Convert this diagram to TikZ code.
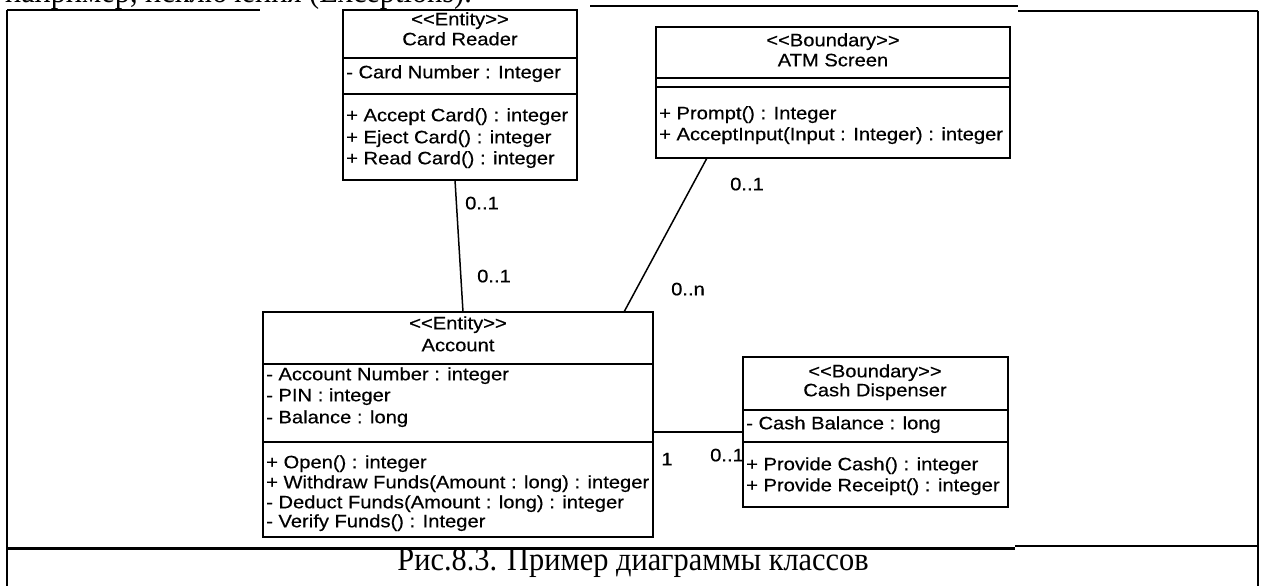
\documentclass[tikz,border=0pt]{standalone}
\usepackage{fontspec}
\setmainfont{Liberation Serif}
\newfontfamily\umlfont[FakeStretch=1.12,FakeBold=0.4]{Liberation Sans}
\newfontfamily\capfont[FakeStretch=0.92]{Liberation Serif}
\tikzset{
  cls/.style={draw, line width=1.7pt, anchor=north west, inner sep=0pt, outer sep=0pt},
  divider/.style={line width=1.7pt},
  conn/.style={line width=1.5pt},
  t/.style={font=\umlfont\fontsize{18}{22}\selectfont, inner sep=0pt},
  tl/.style={t, anchor=mid west},
  tc/.style={t, anchor=mid},
  frameline/.style={line width=2pt},
  doc/.style={font=\capfont\fontsize{33}{38}\selectfont, inner sep=0pt},
}
\begin{document}
\begin{tikzpicture}[x=1pt, y=-1pt]
\useasboundingbox (0,0) rectangle (1266,586);
\clip (0,0) rectangle (1266,586);
\fill[white] (0,0) rectangle (1266,586);

% cut-off text line above the table
\node[doc, anchor=base west] (toptext) at (5,3) {например, исключения (Exceptions).};

% table frame
\draw[frameline] (7,10) -- (260,10);
\draw[frameline] (590,6) -- (1018,6);
\draw[frameline] (1018,11) -- (1258,11);
\draw[frameline] (7,10) -- (7,590);
\draw[frameline] (1258,11) -- (1258,590);
\draw[line width=3pt] (7,548) -- (1015,548);
\draw[line width=2pt] (1015,546) -- (1258,546);

% Card Reader
\node[cls, minimum width=234pt, minimum height=170pt] (cr) at (343,10) {};
\draw[divider] ([yshift=-48pt]cr.north west) -- ([yshift=-48pt]cr.north east);
\draw[divider] ([yshift=-84pt]cr.north west) -- ([yshift=-84pt]cr.north east);
\node[tc] (cr1) at (460,23) {<{}<Entity>{}>};
\node[tc] (cr2) at (460,43) {Card Reader};
\node[tl] (cr3) at (346,76) {- Card Number : Integer};
\node[tl] (cr4) at (346,119) {+ Accept Card() : integer};
\node[tl] (cr5) at (346,141) {+ Eject Card() : integer};
\node[tl] (cr6) at (346,162) {+ Read Card() : integer};

% ATM Screen
\node[cls, minimum width=354pt, minimum height=131pt] (atm) at (656,27) {};
\draw[divider] ([yshift=-51pt]atm.north west) -- ([yshift=-51pt]atm.north east);
\draw[divider] ([yshift=-60pt]atm.north west) -- ([yshift=-60pt]atm.north east);
\node[tc] (atm1) at (833,44) {<{}<Boundary>{}>};
\node[tc] (atm2) at (833,64) {ATM Screen};
\node[tl] (atm3) at (659,117) {+ Prompt() : Integer};
\node[tl] (atm4) at (659,138) {+ AcceptInput(Input : Integer) : integer};

% Account
\node[cls, minimum width=390pt, minimum height=225pt] (acc) at (263,312) {};
\draw[divider] ([yshift=-52pt]acc.north west) -- ([yshift=-52pt]acc.north east);
\draw[divider] ([yshift=-130pt]acc.north west) -- ([yshift=-130pt]acc.north east);
\node[tc] (acc1) at (458,327) {<{}<Entity>{}>};
\node[tc] (acc2) at (458,349) {Account};
\node[tl] (acc3) at (266,378) {- Account Number : integer};
\node[tl] (acc4) at (266,399) {- PIN : integer};
\node[tl] (acc5) at (266,421) {- Balance : long};
\node[tl] (acc6) at (266,466) {+ Open() : integer};
\node[tl] (acc7) at (266,486) {+ Withdraw Funds(Amount : long) : integer};
\node[tl] (acc8) at (266,506) {- Deduct Funds(Amount : long) : integer};
\node[tl] (acc9) at (266,525) {- Verify Funds() : Integer};

% Cash Dispenser
\node[cls, minimum width=265pt, minimum height=150pt] (cd) at (743,357) {};
\draw[divider] ([yshift=-53pt]cd.north west) -- ([yshift=-53pt]cd.north east);
\draw[divider] ([yshift=-85pt]cd.north west) -- ([yshift=-85pt]cd.north east);
\node[tc] (cd1) at (875,375) {<{}<Boundary>{}>};
\node[tc] (cd2) at (875,394) {Cash Dispenser};
\node[tl] (cd3) at (746,427) {- Cash Balance : long};
\node[tl] (cd4) at (746,468) {+ Provide Cash() : integer};
\node[tl] (cd5) at (746,489) {+ Provide Receipt() : integer};

% associations
\draw[conn] ([xshift=-5pt]cr.south) -- ([xshift=5pt]acc.north);
\draw[conn] ([xshift=-126pt]atm.south) -- ([xshift=166pt]acc.north);
\draw[conn] (acc.east |- cd.west) -- (cd.west);

% multiplicities
\node[tc] (m1) at (482,207) {0..1};
\node[tc] (m2) at (494,280) {0..1};
\node[tc] (m3) at (747,188) {0..1};
\node[tc] (m4) at (688,293) {0..n};
\node[tc] (m5) at (667,463) {1};
\node[tc] (m6) at (727,459) {0..1};

% caption
\node[doc, anchor=mid] (cap) at (633,568) {Рис.8.3. Пример диаграммы классов};
\end{tikzpicture}
\end{document}
